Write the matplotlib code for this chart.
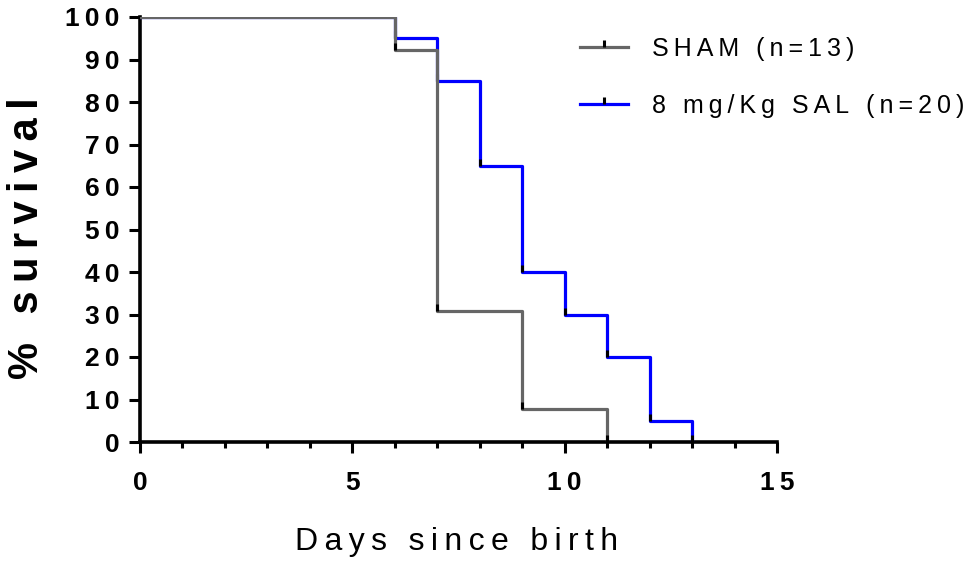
import matplotlib
matplotlib.use("Agg")
import matplotlib.pyplot as plt
from matplotlib.path import Path
from matplotlib.lines import Line2D
from matplotlib.ticker import FixedLocator, FuncFormatter

# Kaplan-Meier step data (days, % survival)
sham_days = [0, 6, 7, 9, 11]
sham_surv = [100, 92.31, 30.77, 7.69, 0]
sal_days = [0, 6, 7, 8, 9, 10, 11, 12, 13]
sal_surv = [100, 95, 85, 65, 40, 30, 20, 5, 0]

labels = ["SHAM (n=13)", "8 mg/Kg SAL (n=20)"]
colors = ["#666666", "#0000ff"]

x_major = [0, 5, 10, 15]
y_major = [0, 10, 20, 30, 40, 50, 60, 70, 80, 90, 100]

FONT = ["Liberation Sans", "DejaVu Sans"]
plt.rcParams["font.family"] = FONT
plt.rcParams["font.weight"] = "bold"


def spaced(s):
    # GraphPad style letter spacing (thin spaces between characters)
    return "\u2009".join(s)


# small vertical tick mark going up from the point
tick_mark = Path([(0, 0), (0, 1)], [Path.MOVETO, Path.LINETO])

W, H = 973, 561
fig = plt.figure(figsize=(W / 100, H / 100), dpi=100)
ax = fig.add_axes([140 / W, (H - 442) / H, (777 - 140) / W, (442 - 17) / H])

ax.step(sal_days, sal_surv, where="post", color=colors[1], lw=2.3, zorder=3)
ax.plot(sal_days[1:], sal_surv[1:], ls="none", marker=tick_mark, ms=10,
        mec="black", mew=2.2, zorder=4)
ax.step(sham_days, sham_surv, where="post", color=colors[0], lw=2.3, zorder=5)
ax.plot(sham_days[1:], sham_surv[1:], ls="none", marker=tick_mark, ms=10,
        mec="black", mew=2.2, zorder=6)

ax.set_xlim(0, 15)
ax.set_ylim(0, 100)
for side in ["top", "right"]:
    ax.spines[side].set_visible(False)
for side in ["left", "bottom"]:
    ax.spines[side].set_linewidth(2.6)
    ax.spines[side].set_capstyle("projecting")

ax.xaxis.set_major_locator(FixedLocator(x_major))
ax.xaxis.set_minor_locator(FixedLocator(range(0, 16)))
ax.yaxis.set_major_locator(FixedLocator(y_major))
fmt = FuncFormatter(lambda v, p: spaced(str(int(v))))
ax.xaxis.set_major_formatter(fmt)
ax.yaxis.set_major_formatter(fmt)

ax.tick_params(axis="x", which="major", direction="out", length=8, width=2.2, pad=13,
               labelsize=19)
ax.tick_params(axis="x", which="minor", direction="out", length=4.5, width=2.2)
ax.tick_params(axis="y", which="major", direction="out", length=8, width=2.2, pad=7,
               labelsize=19)

fig.text(457 / W, 1 - 542 / H, spaced("Days since birth"), ha="center", va="center",
         fontsize=23, fontweight="normal")
fig.text(27 / W, 1 - 238 / H, spaced("% survival"), ha="center", va="center",
         rotation=90, fontweight="bold", fontsize=30)

handles = [Line2D([], [], color=c, lw=2.3, marker=tick_mark, ms=10, mec="black", mew=2.2)
           for c in colors]
leg = ax.legend(handles, [spaced(l) for l in labels], loc="upper left",
                bbox_to_anchor=(580 / W, 1 - 37 / H), bbox_transform=fig.transFigure,
                frameon=False, numpoints=1, handlelength=1.9, handletextpad=1.0,
                labelspacing=1.3, borderpad=0, borderaxespad=0,
                prop={"family": FONT, "size": 18, "weight": "normal"})

fig.savefig("out.png", dpi=100)
